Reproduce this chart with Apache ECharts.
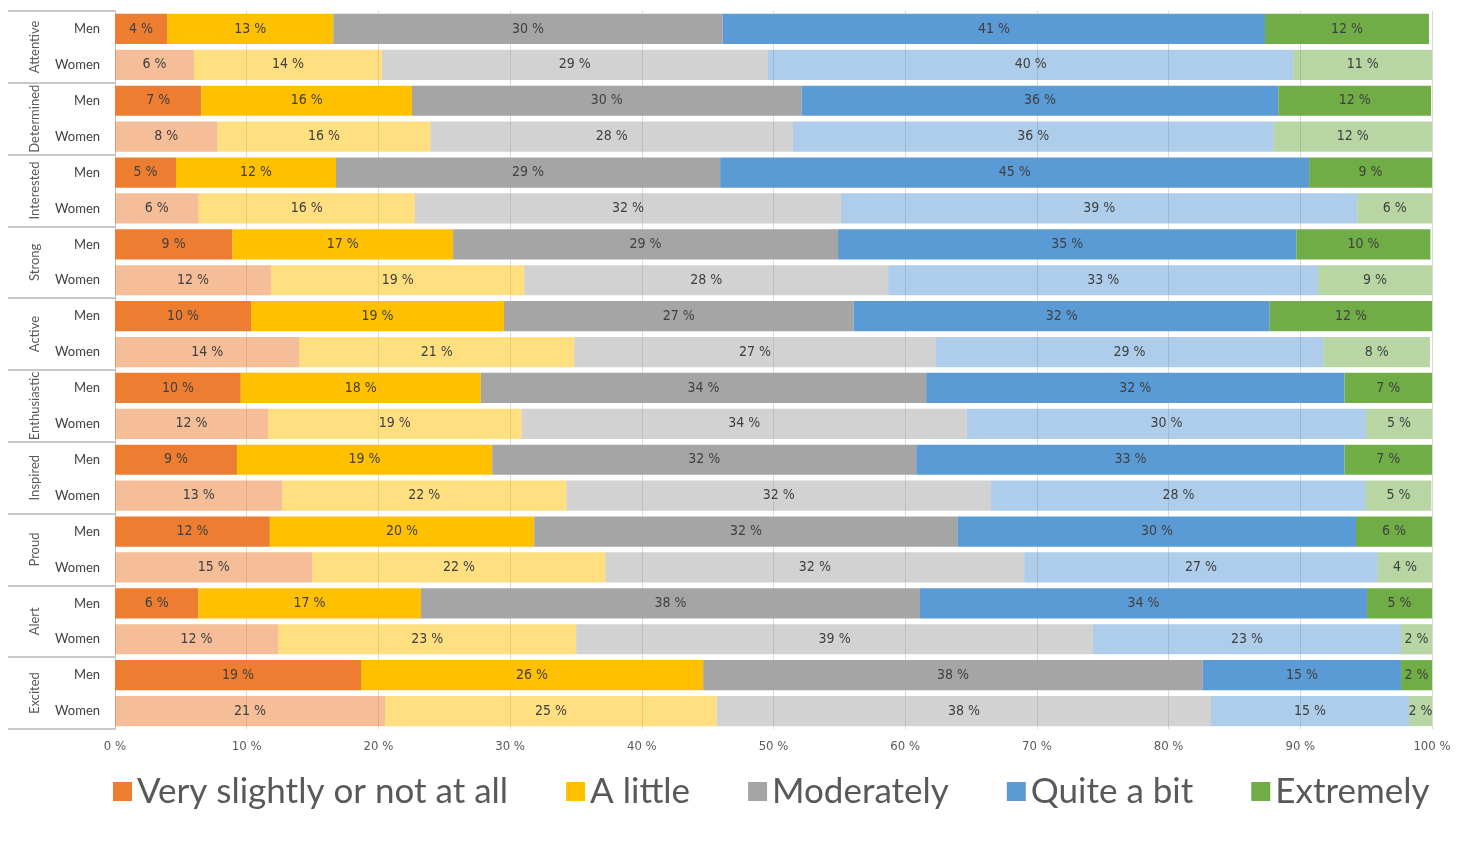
<!DOCTYPE html>
<html>
<head>
<meta charset="utf-8">
<title>Feelings by gender</title>
<script src="https://cdn.jsdelivr.net/npm/echarts@6/dist/echarts.min.js"></script>
<style>
  html, body { margin: 0; padding: 0; background: #fff; }
  #main { width: 1463px; height: 851px; }
</style>
</head>
<body>
<div id="main"></div>
<script>
// rows: each emotion has a Men row and a Women row (top to bottom)
var emotions = ['Attentive', 'Determined', 'Interested', 'Strong', 'Active',
                'Enthusiastic', 'Inspired', 'Proud', 'Alert', 'Excited'];
var genders = ['Men', 'Women'];
var xTicks = [0, 10, 20, 30, 40, 50, 60, 70, 80, 90, 100];

// share (%) per row, order: Attentive Men, Attentive Women, Determined Men, ...
var verySlightly = [3.95, 6.0, 6.55, 7.79, 4.63, 6.35, 8.9, 11.84, 10.33, 13.99,
                    9.55, 11.62, 9.26, 12.7, 11.76, 14.99, 6.32, 12.38, 18.68, 20.51];
var aLittle      = [12.62, 14.26, 16.0, 16.16, 12.15, 16.42, 16.77, 19.24, 19.21, 20.88,
                    18.23, 19.25, 19.38, 21.57, 20.07, 22.25, 16.91, 22.64, 25.98, 25.18];
var moderately   = [29.58, 29.31, 29.58, 27.53, 29.17, 32.35, 29.23, 27.63, 26.54, 27.44,
                    33.81, 33.81, 32.2, 32.25, 32.17, 31.8, 37.89, 39.24, 37.94, 37.53];
var quiteABit    = [41.17, 39.91, 36.2, 36.49, 44.72, 39.22, 34.8, 32.64, 31.6, 29.44,
                    31.77, 30.31, 32.52, 28.45, 30.23, 26.84, 33.94, 23.39, 15.05, 15.04];
var extremely    = [12.45, 10.52, 11.6, 12.03, 9.33, 5.66, 10.18, 8.65, 12.32, 8.1,
                    6.64, 5.01, 6.64, 4.98, 5.77, 4.12, 4.94, 2.35, 2.35, 1.74];

var seriesNames = ['Very slightly or not at all', 'A little', 'Moderately', 'Quite a bit', 'Extremely'];
var seriesValues = [verySlightly, aLittle, moderately, quiteABit, extremely];
var colors = ['#ED7D31', '#FFC000', '#A5A5A5', '#5B9BD5', '#70AD47'];
// women rows: same hue at half strength (gridlines show through)
var womenColors = ['rgba(237,125,49,0.5)', 'rgba(255,192,0,0.5)', 'rgba(165,165,165,0.5)',
                   'rgba(91,155,213,0.5)', 'rgba(112,173,71,0.5)'];

var rowKeys = [];
emotions.forEach(function (e) {
  genders.forEach(function (g) { rowKeys.push(e + '|' + g); });
});

var narrow = "'Liberation Sans Narrow', 'DejaVu Sans Condensed', 'Roboto Condensed', Roboto, sans-serif";
var humanist = "Lato, 'Noto Sans', sans-serif";

var series = seriesNames.map(function (name, si) {
  return {
    name: name,
    type: 'bar',
    stack: 'total',
    barCategoryGap: '16%',
    itemStyle: { color: colors[si] },
    label: {
      show: true,
      position: 'inside',
      color: '#404040',
      fontFamily: narrow,
      fontSize: 14,
      formatter: function (p) { return Math.round(p.value) + ' %'; }
    },
    emphasis: { disabled: true },
    data: seriesValues[si].map(function (v, i) {
      return i % 2 === 1 ? { value: v, itemStyle: { color: womenColors[si] } } : v;
    })
  };
});

var myChart = echarts.init(document.getElementById('main'));
myChart.setOption({
  animation: false,
  color: colors,
  grid: { left: 115, right: 31, top: 11, bottom: 122, containLabel: false },
  legend: {
    data: seriesNames,
    left: 113,
    top: 774,
    padding: 0,
    icon: 'rect',
    itemWidth: 19,
    itemHeight: 19,
    itemGap: 58,
    textStyle: { fontFamily: humanist, fontSize: 35, color: '#595959', lineHeight: 35 }
  },
  xAxis: {
    type: 'value',
    min: 0,
    max: 100,
    interval: 10,
    axisLine: { show: false },
    axisTick: { show: false },
    splitLine: { lineStyle: { color: '#d9d9d9', width: 1 } },
    axisLabel: {
      margin: 11,
      color: '#595959',
      fontFamily: narrow,
      fontSize: 13,
      formatter: function (v) { return xTicks.indexOf(v) >= 0 ? v + ' %' : ''; }
    }
  },
  yAxis: [
    {
      type: 'category',
      inverse: true,
      data: rowKeys,
      axisLine: { show: true, lineStyle: { color: '#bfbfbf', width: 1 } },
      axisTick: { show: false },
      axisLabel: {
        margin: 15,
        color: '#404040',
        fontFamily: humanist,
        fontSize: 13,
        formatter: function (v) { return v.split('|')[1]; }
      }
    },
    {
      type: 'category',
      inverse: true,
      position: 'left',
      data: emotions,
      axisLine: { show: false },
      axisTick: { show: true, length: 107, interval: 0, lineStyle: { color: '#c8c8c8', width: 2 } },
      axisLabel: {
        rotate: 90,
        margin: 74,
        interval: 0,
        color: '#595959',
        fontFamily: humanist,
        fontSize: 13
      }
    }
  ],
  series: series
});
</script>
</body>
</html>
